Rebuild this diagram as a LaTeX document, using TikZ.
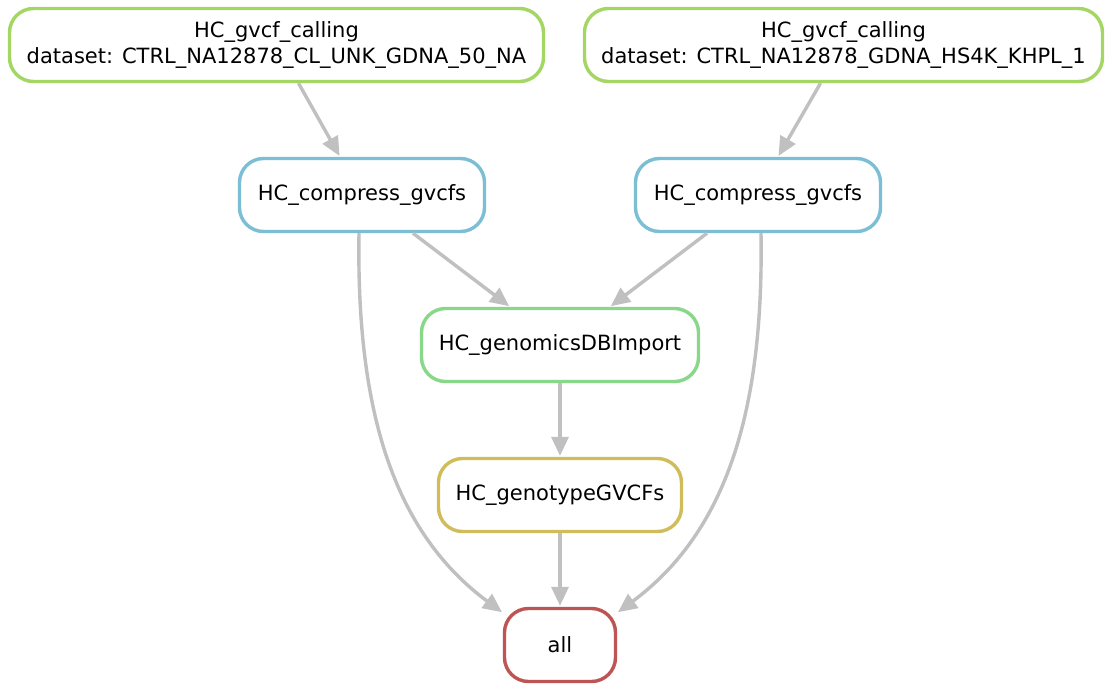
\documentclass[tikz,border=0pt]{standalone}
\usepackage{fontspec}
\setmainfont{DejaVu Sans}
\usetikzlibrary{arrows.meta}
\definecolor{ruleGreen}{RGB}{163,214,98}
\definecolor{ruleBlue}{RGB}{124,190,212}
\definecolor{ruleMint}{RGB}{137,215,137}
\definecolor{ruleGold}{RGB}{208,188,90}
\definecolor{ruleRed}{RGB}{190,85,85}
\definecolor{edgeGray}{RGB}{192,192,192}
\begin{document}
\begin{tikzpicture}[x=1pt, y=-1pt,
  rule/.style={rectangle, draw, line width=3.4pt, rounded corners=24pt, align=center,
               fill=white, minimum height=73pt, inner sep=0pt,
               font=\fontsize{21}{26}\selectfont},
  edge/.style={draw=edgeGray, line width=3.4pt,
               -{Triangle[length=19pt, width=17pt, fill=edgeGray]}, shorten >=1pt}
]
\useasboundingbox[fill=white] (0,0) rectangle (1112,691);
\node[rule, draw=ruleGreen, minimum width=534pt] (gvcfA) at (276.5,45) {HC\_gvcf\_calling\\dataset: CTRL\_NA12878\_CL\_UNK\_GDNA\_50\_NA};
\node[rule, draw=ruleGreen, minimum width=518pt] (gvcfB) at (843.5,45) {HC\_gvcf\_calling\\dataset: CTRL\_NA12878\_GDNA\_HS4K\_KHPL\_1};
\node[rule, draw=ruleBlue, minimum width=245pt] (compA) at (362,195) {HC\_compress\_gvcfs};
\node[rule, draw=ruleBlue, minimum width=245pt] (compB) at (758,195) {HC\_compress\_gvcfs};
\node[rule, draw=ruleMint, minimum width=277pt] (dbimport) at (560,345) {HC\_genomicsDBImport};
\node[rule, draw=ruleGold, minimum width=243pt] (genotype) at (560,495) {HC\_genotypeGVCFs};
\node[rule, draw=ruleRed, minimum width=111pt] (all) at (560,645) {all};
\draw[edge] ([xshift=22pt]gvcfA.south) -- ([xshift=-22pt]compA.north);
\draw[edge] ([xshift=-23pt]gvcfB.south) -- ([xshift=20pt]compB.north);
\draw[edge] ([xshift=51pt]compA.south) -- ([xshift=-50pt]dbimport.north);
\draw[edge] ([xshift=-51pt]compB.south) -- ([xshift=50pt]dbimport.north);
\draw[edge] (dbimport) -- (genotype);
\draw[edge] (genotype) -- (all);
\draw[edge] ([xshift=-3pt]compA.south) .. controls (356,420) and (398,535) .. ([yshift=-6pt]all.north west);
\draw[edge] ([xshift=3pt]compB.south) .. controls (764,420) and (722,535) .. ([yshift=-6pt]all.north east);
\end{tikzpicture}
\end{document}
